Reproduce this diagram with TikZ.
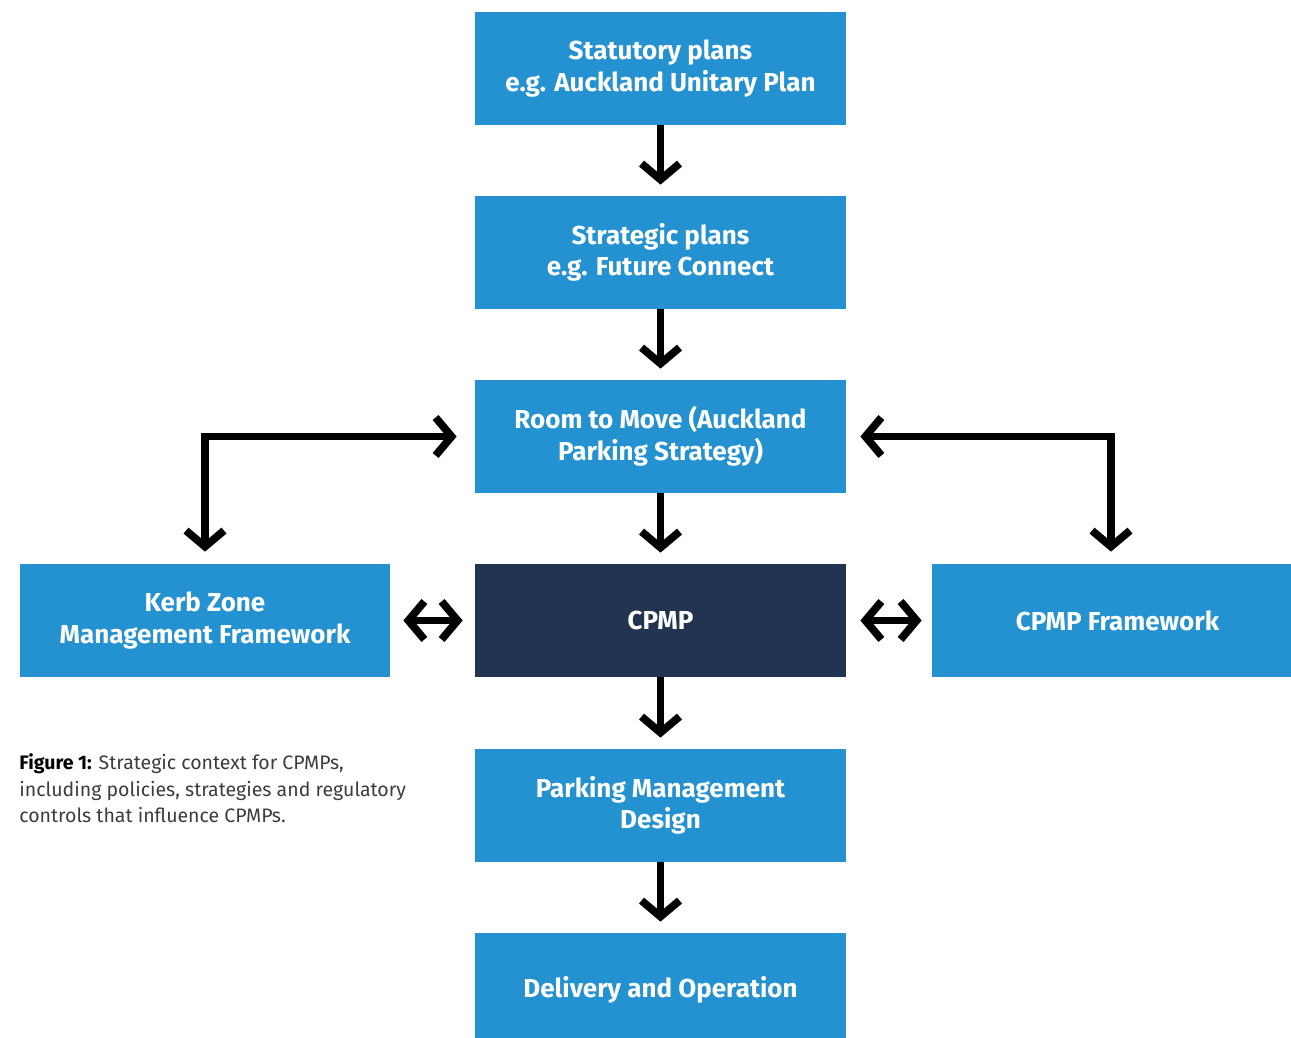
\documentclass[tikz,border=0pt]{standalone}
\usepackage{fontspec}
\setmainfont{Fira Sans}
\usetikzlibrary{arrows.meta}
\definecolor{planblue}{RGB}{36,145,209}
\definecolor{cpmpnavy}{RGB}{34,53,80}
\definecolor{captiongray}{RGB}{60,60,60}

\begin{document}
\begin{tikzpicture}[every node/.style={font=\fontsize{14.8}{18}\selectfont\bfseries},
    planbox/.style={fill=planblue, text=white, align=center, minimum width=7.42cm, minimum height=2.26cm, inner sep=0pt},
    flow/.style={line width=4.4pt, -{Straight Barb[length=0.32cm, width=0.76cm]}},
    twoway/.style={line width=4.4pt, {Straight Barb[length=0.32cm, width=0.76cm]}-{Straight Barb[length=0.32cm, width=0.76cm]}}]
            \useasboundingbox (0,0) rectangle (25.82,-20.76);
            \node[planbox] (statutory) at (13.21,-1.37) {Statutory plans\\e.g. Auckland Unitary Plan};
            \node[planbox] (strategic) at (13.21,-5.05) {Strategic plans\\e.g. Future Connect};
            \node[planbox] (room) at (13.21,-8.73) {Room to Move (Auckland\\Parking Strategy)};
            \node[planbox, fill=cpmpnavy] (cpmp) at (13.21,-12.41) {CPMP};
            \node[planbox, minimum width=7.4cm] (kerb) at (4.1,-12.41) {Kerb Zone\\Management Framework};
            \node[planbox] (framework) at (22.35,-12.41) {CPMP Framework};
            \node[planbox] (design) at (13.21,-16.11) {Parking Management\\Design};
            \node[planbox] (delivery) at (13.21,-19.79) {Delivery and Operation};
            \draw[flow] (statutory.south) -- ([yshift=0.22cm]strategic.north);
            \draw[flow] (strategic.south) -- ([yshift=0.22cm]room.north);
            \draw[flow] (room.south) -- ([yshift=0.22cm]cpmp.north);
            \draw[flow] (cpmp.south) -- ([yshift=0.22cm]design.north);
            \draw[flow] (design.south) -- ([yshift=0.22cm]delivery.north);
            \draw[twoway] ([yshift=0.24cm]kerb.north) |- ([xshift=-0.36cm]room.west);
            \draw[twoway] ([xshift=0.28cm]room.east) -| ([xshift=-0.13cm, yshift=0.24cm]framework.north);
            \draw[twoway] ([xshift=0.26cm]kerb.east) -- ([xshift=-0.24cm]cpmp.west);
            \draw[twoway] ([xshift=0.28cm]cpmp.east) -- ([xshift=-0.2cm]framework.west);
            \node[anchor=north west, align=left, text=captiongray, inner sep=0pt, font=\fontsize{11.1}{15.1}\selectfont] (caption) at (0.38,-15.07)
                {{\color{black}\bfseries Figure 1:} Strategic context for CPMPs,\\including policies, strategies and regulatory\\controls that influence CPMPs.};
        \end{tikzpicture}
\end{document}
